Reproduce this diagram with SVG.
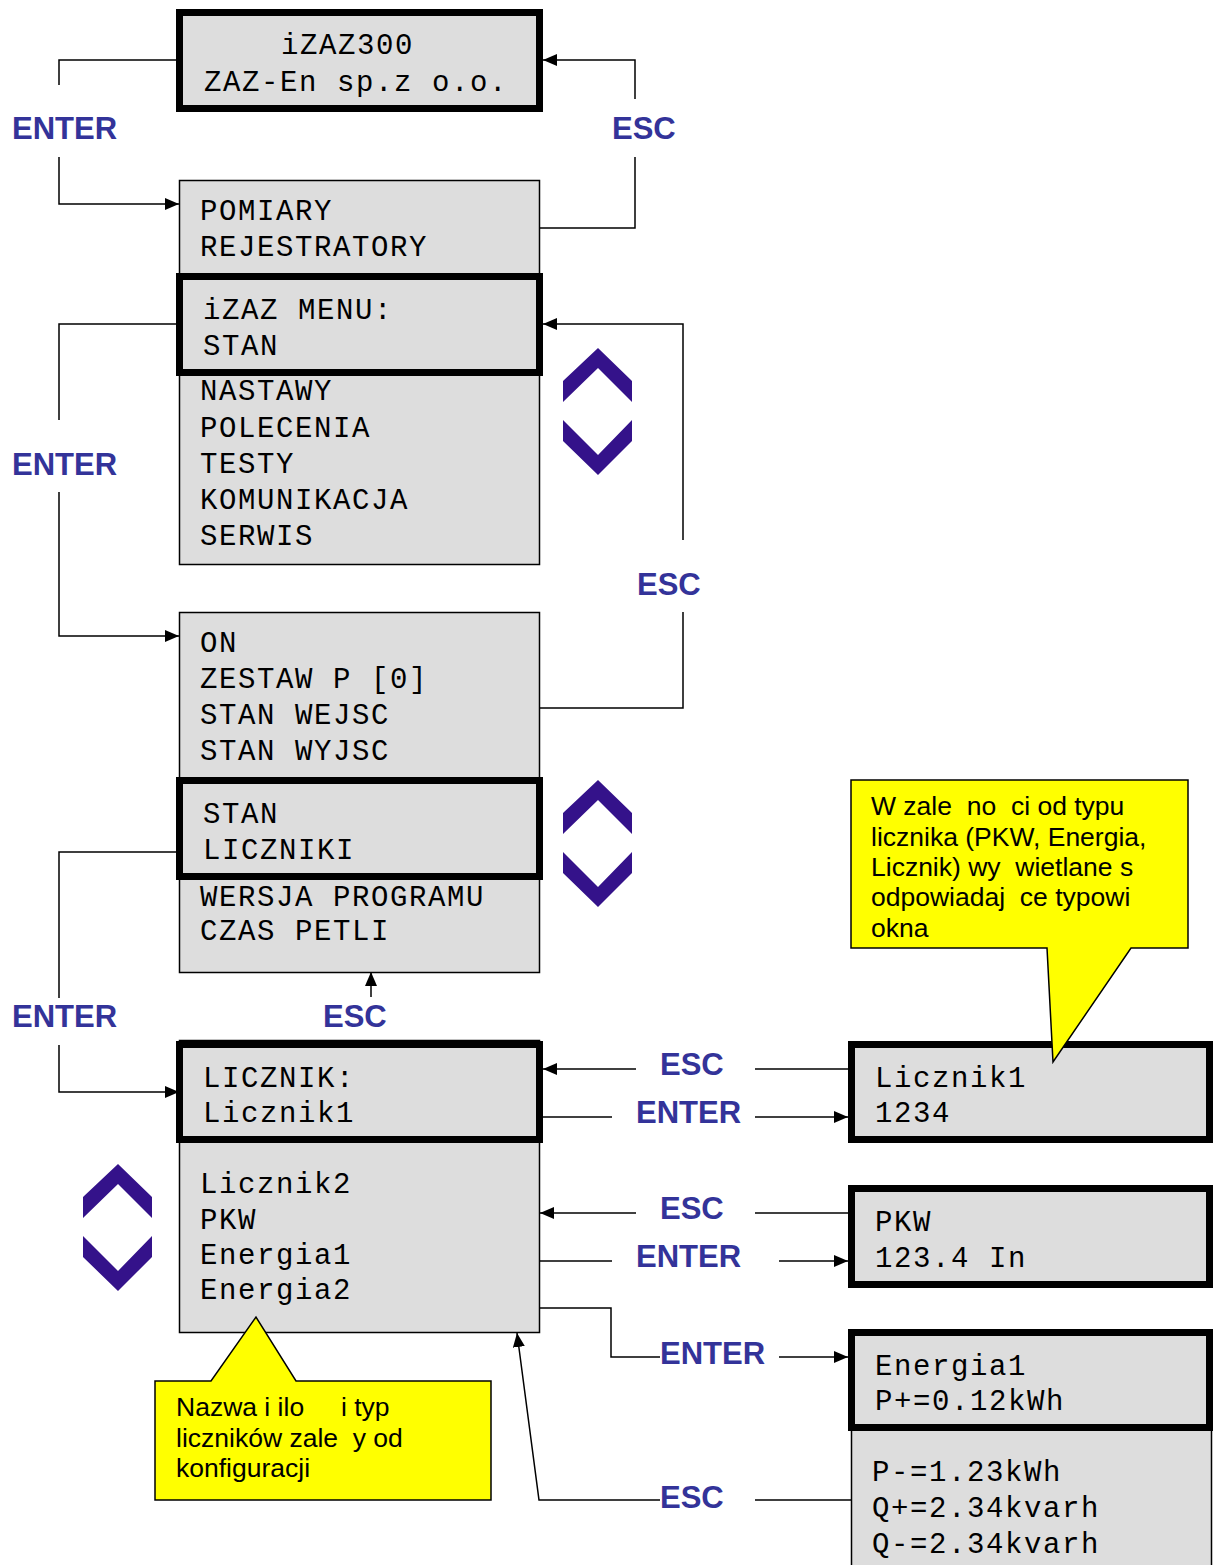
<svg xmlns="http://www.w3.org/2000/svg" width="1213" height="1565" viewBox="0 0 1213 1565">
  <style>
    .scr { fill: #dddddd; stroke: #000; stroke-width: 1.5; }
    .scr-sel { fill: #dddddd; stroke: #000; stroke-width: 7; }
    .lcd { font-family: "Liberation Mono", "Courier New", monospace; font-size: 29px; letter-spacing: 1.6px; fill: #000; white-space: pre; }
    .key { font-family: "Liberation Sans", Arial, sans-serif; font-weight: bold; font-size: 31px; fill: #333399; }
    .note { fill: #ffff00; stroke: #000; stroke-width: 1.5; }
    .note-t { font-family: "Liberation Sans", Arial, sans-serif; font-size: 26.5px; fill: #000; white-space: pre; }
    .chev { fill: #34128a; }
    .wire { fill: none; stroke: #000; stroke-width: 1.5; }
  </style>
  <defs>
    <marker id="ah" viewBox="0 0 14 12" refX="14" refY="6" markerWidth="14" markerHeight="12" markerUnits="userSpaceOnUse" orient="auto">
      <path d="M0,0 L14,6 L0,12 Z" fill="#000"/>
    </marker>
    <g id="updown">
      <path class="chev" d="M0,33 L35,0 L69,33 L69,54 L35,20 L0,54 Z"/>
      <path class="chev" d="M0,72 L35,107 L69,72 L69,93 L35,127 L0,93 Z"/>
    </g>
  </defs>

  <!-- start screen -->
  <g id="start">
    <rect class="scr-sel" x="179.5" y="12.5" width="360" height="96"/>
    <text class="lcd" x="281" y="54">iZAZ300</text>
    <text class="lcd" x="204" y="91">ZAZ-En sp.z o.o.</text>
  </g>

  <!-- main menu -->
  <g id="main-menu">
    <rect class="scr" x="179.5" y="180.5" width="360" height="384"/>
    <text class="lcd" x="200" y="220">POMIARY</text>
    <text class="lcd" x="200" y="256">REJESTRATORY</text>
    <rect class="scr-sel" x="179.5" y="276.5" width="360" height="96"/>
    <text class="lcd" x="203" y="319">iZAZ MENU:</text>
    <text class="lcd" x="203" y="355">STAN</text>
    <text class="lcd" x="200" y="400">NASTAWY</text>
    <text class="lcd" x="200" y="437">POLECENIA</text>
    <text class="lcd" x="200" y="473">TESTY</text>
    <text class="lcd" x="200" y="509">KOMUNIKACJA</text>
    <text class="lcd" x="200" y="545">SERWIS</text>
  </g>

  <!-- status menu -->
  <g id="stan-menu">
    <rect class="scr" x="179.5" y="612.5" width="360" height="360"/>
    <text class="lcd" x="200" y="652">ON</text>
    <text class="lcd" x="200" y="688">ZESTAW P [0]</text>
    <text class="lcd" x="200" y="724">STAN WEJSC</text>
    <text class="lcd" x="200" y="760">STAN WYJSC</text>
    <rect class="scr-sel" x="179.5" y="780.5" width="360" height="96"/>
    <text class="lcd" x="203" y="823">STAN</text>
    <text class="lcd" x="203" y="859">LICZNIKI</text>
    <text class="lcd" x="200" y="906">WERSJA PROGRAMU</text>
    <text class="lcd" x="200" y="940">CZAS PETLI</text>
  </g>

  <!-- counter list -->
  <g id="licznik-menu">
    <rect class="scr" x="179.5" y="1040.5" width="360" height="292"/>
    <rect class="scr-sel" x="179.5" y="1044.5" width="360" height="95"/>
    <text class="lcd" x="203" y="1087">LICZNIK:</text>
    <text class="lcd" x="203" y="1122">Licznik1</text>
    <text class="lcd" x="200" y="1193">Licznik2</text>
    <text class="lcd" x="200" y="1229">PKW</text>
    <text class="lcd" x="200" y="1264">Energia1</text>
    <text class="lcd" x="200" y="1299">Energia2</text>
  </g>

  <!-- counter detail screens -->
  <g id="licznik1">
    <rect class="scr-sel" x="851.5" y="1044.5" width="358" height="95"/>
    <text class="lcd" x="875" y="1087">Licznik1</text>
    <text class="lcd" x="875" y="1122">1234</text>
  </g>
  <g id="pkw">
    <rect class="scr-sel" x="851.5" y="1188.5" width="358" height="96"/>
    <text class="lcd" x="875" y="1231">PKW</text>
    <text class="lcd" x="875" y="1267">123.4 In</text>
  </g>
  <g id="energia1">
    <rect class="scr" x="851.5" y="1430" width="360" height="140"/>
    <rect class="scr-sel" x="851.5" y="1332.5" width="358" height="95"/>
    <text class="lcd" x="875" y="1375">Energia1</text>
    <text class="lcd" x="875" y="1410">P+=0.12kWh</text>
    <text class="lcd" x="872" y="1481">P-=1.23kWh</text>
    <text class="lcd" x="872" y="1517">Q+=2.34kvarh</text>
    <text class="lcd" x="872" y="1553">Q-=2.34kvarh</text>
  </g>

  <!-- scroll indicators -->
  <g id="scroll-1"><use href="#updown" x="563" y="348"/></g>
  <g id="scroll-2"><use href="#updown" x="563" y="780"/></g>
  <g id="scroll-3"><use href="#updown" x="83" y="1164"/></g>

  <!-- connectors -->
  <g id="connectors">
    <path class="wire" d="M176,60 H59 V85"/>
    <path class="wire" d="M59,157 V204 H179" marker-end="url(#ah)"/>
    <path class="wire" d="M539,228 H635 V157"/>
    <path class="wire" d="M635,99 V60 H543" marker-end="url(#ah)"/>

    <path class="wire" d="M176,324 H59 V420"/>
    <path class="wire" d="M59,492 V636 H179" marker-end="url(#ah)"/>
    <path class="wire" d="M539,708 H683 V612"/>
    <path class="wire" d="M683,540 V324 H543" marker-end="url(#ah)"/>

    <path class="wire" d="M176,852 H59 V998"/>
    <path class="wire" d="M59,1045 V1092 H179" marker-end="url(#ah)"/>
    <path class="wire" d="M371,997 V972" marker-end="url(#ah)"/>

    <path class="wire" d="M848,1069 H755"/>
    <path class="wire" d="M636,1069 H543" marker-end="url(#ah)"/>
    <path class="wire" d="M543,1117 H612"/>
    <path class="wire" d="M755,1117 H848" marker-end="url(#ah)"/>

    <path class="wire" d="M848,1213 H755"/>
    <path class="wire" d="M636,1213 H540" marker-end="url(#ah)"/>
    <path class="wire" d="M539,1261 H612"/>
    <path class="wire" d="M779,1261 H848" marker-end="url(#ah)"/>

    <path class="wire" d="M539,1308 H611 V1357 H660"/>
    <path class="wire" d="M779,1357 H848" marker-end="url(#ah)"/>
    <path class="wire" d="M851,1500 H755"/>
    <path class="wire" d="M660,1500 H539 L517,1333" marker-end="url(#ah)"/>
  </g>

  <!-- key labels -->
  <g id="labels">
    <text class="key" x="12" y="139">ENTER</text>
    <text class="key" x="612" y="139">ESC</text>
    <text class="key" x="12" y="475">ENTER</text>
    <text class="key" x="637" y="595">ESC</text>
    <text class="key" x="12" y="1027">ENTER</text>
    <text class="key" x="323" y="1027">ESC</text>
    <text class="key" x="660" y="1075">ESC</text>
    <text class="key" x="636" y="1123">ENTER</text>
    <text class="key" x="660" y="1219">ESC</text>
    <text class="key" x="636" y="1267">ENTER</text>
    <text class="key" x="660" y="1364">ENTER</text>
    <text class="key" x="660" y="1508">ESC</text>
  </g>

  <!-- notes -->
  <g id="note-typ">
    <path class="note" d="M851,780 H1188 V948 H1131 L1053,1062 L1047,948 H851 Z"/>
    <text class="note-t" x="871" y="815">W zale  no  ci od typu</text>
    <text class="note-t" x="871" y="846">licznika (PKW, Energia,</text>
    <text class="note-t" x="871" y="876">Licznik) wy  wietlane s</text>
    <text class="note-t" x="871" y="906">odpowiadaj  ce typowi</text>
    <text class="note-t" x="871" y="937">okna</text>
  </g>
  <g id="note-nazwa">
    <path class="note" d="M155,1381 H211 L256,1317 L296,1381 H491 V1500 H155 Z"/>
    <text class="note-t" x="176" y="1416">Nazwa i ilo     i typ</text>
    <text class="note-t" x="176" y="1447">liczników zale  y od</text>
    <text class="note-t" x="176" y="1477">konfiguracji</text>
  </g>
</svg>
